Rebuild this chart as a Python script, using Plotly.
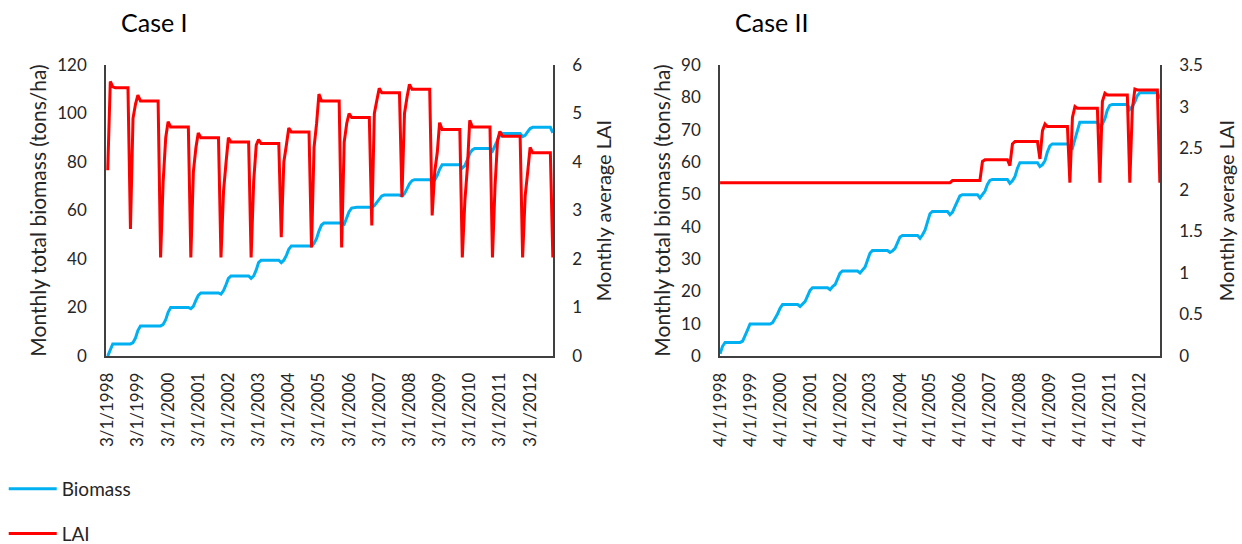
import pandas as pd
import plotly.graph_objects as go

# ---- Case I: monthly series, Mar 1998 - Dec 2012 ----
case1_dates = pd.date_range("1998-03-01", "2012-12-01", freq="MS")

case1_biomass = [
    0, 3, 5, 5, 5, 5, 5, 5, 5, 5,                                        # 1998 (Mar-Dec)
    5.5, 7.5, 10.5, 12.4, 12.4, 12.4, 12.4, 12.4, 12.4, 12.4, 12.4, 12.4,  # 1999
    13, 15, 18, 20, 20, 20, 20, 20, 20, 20, 20, 19.5,                    # 2000
    20.5, 23, 25, 26, 26, 26, 26, 26, 26, 26, 26, 25.5,                  # 2001
    27, 29.5, 32, 33, 33, 33, 33, 33, 33, 33, 33, 32,                    # 2002
    33, 35.5, 38.5, 39.5, 39.5, 39.5, 39.5, 39.5, 39.5, 39.5, 39.5, 38.5,  # 2003
    39.5, 41.5, 44, 45.4, 45.4, 45.4, 45.4, 45.4, 45.4, 45.4, 45.4, 45.4,  # 2004
    46.5, 48.5, 51.5, 54, 54.8, 54.8, 54.8, 54.8, 54.8, 54.8, 54.8, 54.8,  # 2005
    54.3, 57, 59.5, 61, 61.3, 61.3, 61.3, 61.3, 61.3, 61.3, 61.3, 61.3,    # 2006
    62, 63.5, 65, 66, 66.4, 66.4, 66.4, 66.4, 66.4, 66.4, 66.4, 66,        # 2007
    67, 69, 71, 72.3, 72.7, 72.7, 72.7, 72.7, 72.7, 72.7, 72.7, 72,        # 2008
    72.5, 74.5, 77, 78.9, 78.9, 78.9, 78.9, 78.9, 78.9, 78.9, 78.9, 77.5,  # 2009
    78.5, 81, 83.5, 85, 85.6, 85.6, 85.6, 85.6, 85.6, 85.6, 85.6, 84.5,    # 2010
    86.5, 89, 91, 91.8, 91.8, 91.8, 91.8, 91.8, 91.8, 91.8, 91.8, 90.5,    # 2011
    91, 92.5, 93.8, 94.3, 94.3, 94.3, 94.3, 94.3, 94.3, 94.3, 94.3, 92,    # 2012
]

case1_lai = [
    3.83, 5.66, 5.55, 5.53, 5.53, 5.53, 5.53, 5.53, 5.53, 2.62,                  # 1998 (Mar-Dec)
    4.9, 5.2, 5.38, 5.26, 5.26, 5.26, 5.26, 5.26, 5.26, 5.26, 5.26, 2.03,        # 1999
    3.6, 4.5, 4.83, 4.72, 4.72, 4.72, 4.72, 4.72, 4.72, 4.72, 4.72, 2.03,        # 2000
    3.8, 4.3, 4.6, 4.5, 4.5, 4.5, 4.5, 4.5, 4.5, 4.5, 4.5, 2.03,                 # 2001
    3.4, 4.0, 4.5, 4.41, 4.41, 4.41, 4.41, 4.41, 4.41, 4.41, 4.41, 2.03,         # 2002
    3.6, 4.35, 4.46, 4.38, 4.38, 4.38, 4.38, 4.38, 4.38, 4.38, 4.38, 2.45,       # 2003
    4.0, 4.35, 4.7, 4.62, 4.62, 4.62, 4.62, 4.62, 4.62, 4.62, 4.62, 2.24,        # 2004
    4.3, 4.8, 5.4, 5.26, 5.26, 5.26, 5.26, 5.26, 5.26, 5.26, 5.26, 2.24,         # 2005
    4.41, 4.8, 5.0, 4.92, 4.92, 4.92, 4.92, 4.92, 4.92, 4.92, 4.92, 2.69,        # 2006
    5.0, 5.28, 5.52, 5.43, 5.43, 5.43, 5.43, 5.43, 5.43, 5.43, 5.43, 3.28,       # 2007
    5.0, 5.34, 5.6, 5.5, 5.5, 5.5, 5.5, 5.5, 5.5, 5.5, 5.5, 2.9,                 # 2008
    3.8, 4.2, 4.81, 4.67, 4.67, 4.67, 4.67, 4.67, 4.67, 4.67, 4.67, 2.03,        # 2009
    3.2, 3.9, 4.86, 4.72, 4.72, 4.72, 4.72, 4.72, 4.72, 4.72, 4.72, 2.03,        # 2010
    3.5, 4.45, 4.63, 4.53, 4.53, 4.53, 4.53, 4.53, 4.53, 4.53, 4.53, 2.03,       # 2011
    3.3, 3.8, 4.3, 4.19, 4.19, 4.19, 4.19, 4.19, 4.19, 4.19, 4.19, 2.03,         # 2012
]

# ---- Case II: monthly series, Apr 1998 - Dec 2012 ----
case2_dates = pd.date_range("1998-04-01", "2012-12-01", freq="MS")

case2_biomass = [
    0.7, 3, 4.2, 4.2, 4.2, 4.2, 4.2, 4.2, 4.2,                                  # 1998 (Apr-Dec)
    4.6, 6.2, 8, 9.9, 9.9, 9.9, 9.9, 9.9, 9.9, 9.9, 9.9, 9.9,                    # 1999
    10.3, 11.5, 13, 14.8, 15.9, 15.9, 15.9, 15.9, 15.9, 15.9, 15.9, 15.3,        # 2000
    16, 16.9, 18.5, 20.3, 21.1, 21.1, 21.1, 21.1, 21.1, 21.1, 21.1, 20.5,        # 2001
    21.5, 22.1, 24, 25.6, 26.3, 26.3, 26.3, 26.3, 26.3, 26.3, 26.3, 25.7,        # 2002
    26.5, 27.5, 29.5, 31.8, 32.6, 32.6, 32.6, 32.6, 32.6, 32.6, 32.6, 32.0,      # 2003
    32.5, 33.3, 35, 36.8, 37.3, 37.3, 37.3, 37.3, 37.3, 37.3, 37.3, 36.4,        # 2004
    37.5, 39.0, 41.5, 44, 44.7, 44.7, 44.7, 44.7, 44.7, 44.7, 44.7, 43.7,        # 2005
    44.5, 46.3, 48, 49.5, 49.9, 49.9, 49.9, 49.9, 49.9, 49.9, 49.9, 48.9,        # 2006
    49.8, 51, 53, 54.3, 54.6, 54.6, 54.6, 54.6, 54.6, 54.6, 54.6, 53.4,          # 2007
    54.2, 55.5, 58, 59.8, 59.8, 59.8, 59.8, 59.8, 59.8, 59.8, 59.8, 58.6,        # 2008
    59.2, 60.4, 63, 65, 65.6, 65.6, 65.6, 65.6, 65.6, 65.6, 65.6, 64.6,          # 2009
    64.2, 67.1, 70, 72.3, 72.3, 72.3, 72.3, 72.3, 72.3, 72.3, 72.3, 70.8,        # 2010
    71.8, 73.4, 76, 77.5, 77.8, 77.8, 77.8, 77.8, 77.8, 77.8, 77.8, 76.3,        # 2011
    77.2, 78.6, 80.5, 81.4, 81.4, 81.4, 81.4, 81.4, 81.4, 81.4, 81.4, 79.6,      # 2012
]

case2_lai = [
    2.085, 2.085, 2.085, 2.085, 2.085, 2.085, 2.085, 2.085, 2.085,                        # 1998 (Apr-Dec)
    2.085, 2.085, 2.085, 2.085, 2.085, 2.085, 2.085, 2.085, 2.085, 2.085, 2.085, 2.085,   # 1999
    2.085, 2.085, 2.085, 2.085, 2.085, 2.085, 2.085, 2.085, 2.085, 2.085, 2.085, 2.085,   # 2000
    2.085, 2.085, 2.085, 2.085, 2.085, 2.085, 2.085, 2.085, 2.085, 2.085, 2.085, 2.085,   # 2001
    2.085, 2.085, 2.085, 2.085, 2.085, 2.085, 2.085, 2.085, 2.085, 2.085, 2.085, 2.085,   # 2002
    2.085, 2.085, 2.085, 2.085, 2.085, 2.085, 2.085, 2.085, 2.085, 2.085, 2.085, 2.085,   # 2003
    2.085, 2.085, 2.085, 2.085, 2.085, 2.085, 2.085, 2.085, 2.085, 2.085, 2.085, 2.085,   # 2004
    2.085, 2.085, 2.085, 2.085, 2.085, 2.085, 2.085, 2.085, 2.085, 2.085, 2.085, 2.085,   # 2005
    2.11, 2.11, 2.11, 2.11, 2.11, 2.11, 2.11, 2.11, 2.11, 2.11, 2.11, 2.11,               # 2006
    2.34, 2.36, 2.36, 2.36, 2.36, 2.36, 2.36, 2.36, 2.36, 2.36, 2.36, 2.29,               # 2007
    2.55, 2.58, 2.58, 2.58, 2.58, 2.58, 2.58, 2.58, 2.58, 2.58, 2.58, 2.37,               # 2008
    2.71, 2.79, 2.76, 2.76, 2.76, 2.76, 2.76, 2.76, 2.76, 2.76, 2.76, 2.085,              # 2009
    2.87, 3.0, 2.98, 2.98, 2.98, 2.98, 2.98, 2.98, 2.98, 2.98, 2.98, 2.085,               # 2010
    3.06, 3.16, 3.14, 3.14, 3.14, 3.14, 3.14, 3.14, 3.14, 3.14, 3.14, 2.085,              # 2011
    2.97, 3.21, 3.2, 3.2, 3.2, 3.2, 3.2, 3.2, 3.2, 3.2, 3.2, 2.085,                       # 2012
]

case1_ticks = [f"{y}-03-01" for y in range(1998, 2013)]
case1_ticktext = [f"3/1/{y}" for y in range(1998, 2013)]
case2_ticks = [f"{y}-04-01" for y in range(1998, 2013)]
case2_ticktext = [f"4/1/{y}" for y in range(1998, 2013)]

BLUE = "#00B0F0"
RED = "#FF0000"
FONT = "Lato"
TXT = "#262626"
AXC = "#404040"

fig = go.Figure()

fig.add_trace(go.Scatter(x=case1_dates, y=case1_biomass, name="Biomass", mode="lines",
                         line=dict(color=BLUE, width=3), xaxis="x", yaxis="y",
                         legendgroup="b"))
fig.add_trace(go.Scatter(x=case1_dates, y=case1_lai, name="LAI", mode="lines",
                         line=dict(color=RED, width=3), xaxis="x", yaxis="y2",
                         legendgroup="l"))
fig.add_trace(go.Scatter(x=case2_dates, y=case2_biomass, name="Biomass", mode="lines",
                         line=dict(color=BLUE, width=3), xaxis="x2", yaxis="y3",
                         showlegend=False, legendgroup="b"))
fig.add_trace(go.Scatter(x=case2_dates, y=case2_lai, name="LAI", mode="lines",
                         line=dict(color=RED, width=3), xaxis="x2", yaxis="y4",
                         showlegend=False, legendgroup="l"))

W, H = 1242, 544
ydom = [(H - 356) / H, (H - 65) / H]

xcommon = dict(type="date", showline=True, linecolor=AXC, linewidth=1.5,
               showgrid=False, zeroline=False, ticks="", tickangle=-90, automargin=False,
               tickfont=dict(family=FONT, size=17, color=TXT), ticklabelstandoff=8)
ycommon = dict(showline=True, linecolor=AXC, linewidth=1.5, showgrid=False,
               zeroline=False, ticks="", automargin=False,
               tickfont=dict(family=FONT, size=17, color=TXT), ticklabelstandoff=14)
left_title_font = dict(family=FONT, size=21, color=TXT)
right_title_font = dict(family=FONT, size=20, color=TXT)

fig.update_layout(
    width=W, height=H,
    margin=dict(l=0, r=0, t=0, b=0, autoexpand=False),
    paper_bgcolor="white", plot_bgcolor="white",
    font=dict(family=FONT, color=TXT),
    xaxis=dict(domain=[106 / W, 553 / W], range=["1998-02-08", "2012-12-03"],
               tickvals=case1_ticks, ticktext=case1_ticktext, anchor="y", **xcommon),
    yaxis=dict(domain=ydom, range=[0, 120], dtick=20, anchor="x",
               title=dict(text="Monthly total biomass (tons/ha)", font=left_title_font, standoff=5),
               **ycommon),
    yaxis2=dict(domain=ydom, range=[0, 6], dtick=1, overlaying="y", side="right", anchor="x",
                title=dict(text="Monthly average LAI", font=right_title_font, standoff=16),
                **ycommon),
    xaxis2=dict(domain=[720 / W, 1160 / W], range=["1998-03-31", "2012-12-03"],
                tickvals=case2_ticks, ticktext=case2_ticktext, anchor="y3", **xcommon),
    yaxis3=dict(domain=ydom, range=[0, 90], dtick=10, anchor="x2",
                title=dict(text="Monthly total biomass (tons/ha)", font=left_title_font, standoff=5),
                **ycommon),
    yaxis4=dict(domain=ydom, range=[0, 3.5], dtick=0.5, overlaying="y3", side="right", anchor="x2",
                title=dict(text="Monthly average LAI", font=right_title_font, standoff=18),
                **ycommon),
    legend=dict(x=0.003, y=(H - 470) / H, xanchor="left", yanchor="top",
                font=dict(family=FONT, size=19, color=TXT), tracegroupgap=17,
                itemwidth=48, bgcolor="rgba(0,0,0,0)"),
    annotations=[
        dict(text="Case I", x=119 / W, y=(H - 22) / H, xref="paper", yref="paper",
             xanchor="left", yanchor="middle", showarrow=False,
             font=dict(family=FONT, size=25, color="#000000")),
        dict(text="Case II", x=733 / W, y=(H - 22) / H, xref="paper", yref="paper",
             xanchor="left", yanchor="middle", showarrow=False,
             font=dict(family=FONT, size=25, color="#000000")),
    ],
)

fig.write_html("out.html")
